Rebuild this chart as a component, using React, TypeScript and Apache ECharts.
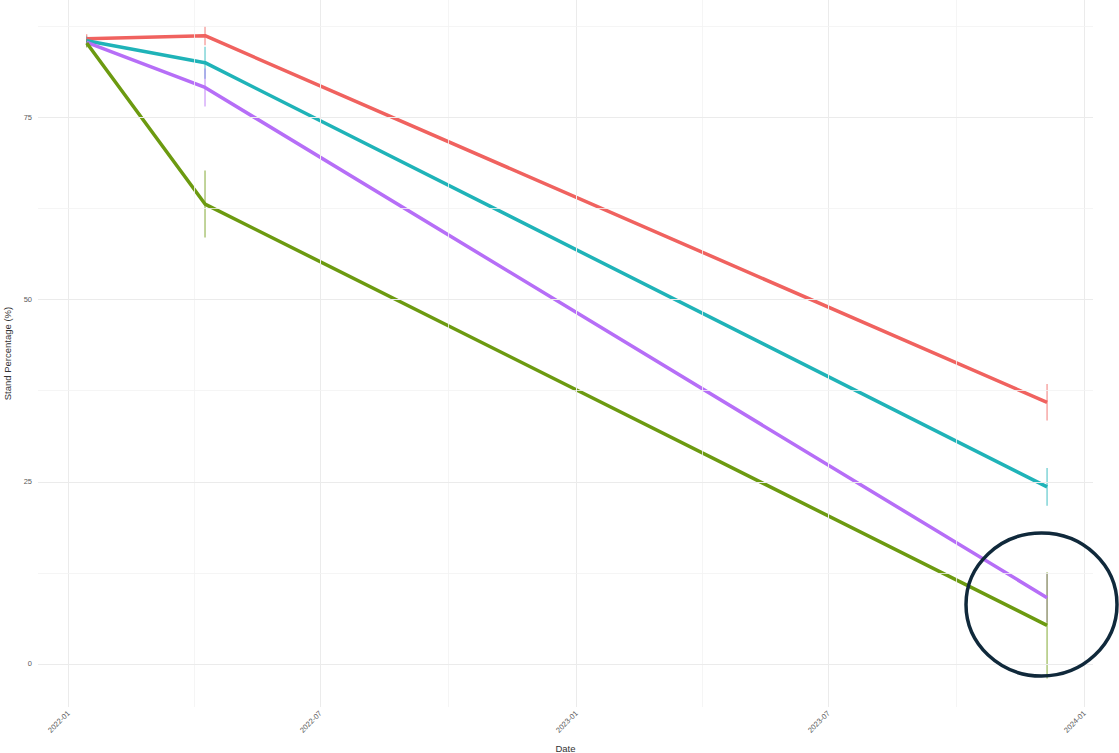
import React, { useEffect, useRef } from "react";
import * as echarts from "echarts";

// ---- data ----
const dates = ["2022-01-14", "2022-04-09", "2023-12-05"];
const groupNames = ["Group 1", "Group 2", "Group 3", "Group 4"];
const groupColors = ["#F0625F", "#1FB3B8", "#B66EF7", "#6C9A10"];
const standValues = [
  [85.8, 86.2, 35.9],
  [85.5, 82.5, 24.3],
  [85.3, 79.1, 9.1],
  [85.2, 63.1, 5.3],
];
const standErrors = [
  [0.6, 1.3, 2.5],
  [0.6, 2.2, 2.6],
  [0.6, 2.6, 3.4],
  [0.6, 4.6, 7.3],
];
const xBreaks = ["2022-01-01", "2022-07-01", "2023-01-01", "2023-07-01", "2024-01-01"];
const xMinorBreaks = ["2022-04-01", "2022-10-01", "2023-04-01", "2023-10-01"];
const xLimits = ["2021-12-10", "2024-01-07"];
const yBreaks = [0, 25, 50, 75];
const yMinorBreaks = [12.5, 37.5, 62.5, 87.5];
const yLimits = [-5.9, 91.1];

const ts = (d: string) => {
  const [y, m, dd] = d.split("-").map(Number);
  return Date.UTC(y, m - 1, dd);
};
const fmt = (v: number) => {
  const d = new Date(v);
  return `${d.getUTCFullYear()}-${String(d.getUTCMonth() + 1).padStart(2, "0")}`;
};

export default function App() {
  const ref = useRef<HTMLDivElement>(null);
  useEffect(() => {
    if (!ref.current) return;
    const chart = echarts.init(ref.current, undefined, { renderer: "svg" });

    const gridSeries: any = {
      type: "line",
      data: [],
      silent: true,
      z: 0,
      markLine: {
        silent: true,
        symbol: "none",
        label: { show: false },
        animation: false,
        data: [
          ...xBreaks.map((d) => ({ xAxis: ts(d), lineStyle: { color: "#ebebeb", width: 1, type: "solid" } })),
          ...xMinorBreaks.map((d) => ({ xAxis: ts(d), lineStyle: { color: "#f3f3f3", width: 0.8, type: "solid" } })),
          ...yBreaks.map((v) => ({ yAxis: v, lineStyle: { color: "#ebebeb", width: 1, type: "solid" } })),
          ...yMinorBreaks.map((v) => ({ yAxis: v, lineStyle: { color: "#f3f3f3", width: 0.8, type: "solid" } })),
        ],
      },
    };

    const errSeries = groupNames.map((name, gi) => ({
      type: "custom",
      name: name + " error",
      z: 3,
      data: dates.map((d, i) => [ts(d), standValues[gi][i] - standErrors[gi][i], standValues[gi][i] + standErrors[gi][i]]),
      renderItem: (params: any, api: any) => {
        const p1 = api.coord([api.value(0), api.value(1)]);
        const p2 = api.coord([api.value(0), api.value(2)]);
        return {
          type: "line",
          shape: { x1: p1[0], y1: p1[1], x2: p2[0], y2: p2[1] },
          style: { stroke: groupColors[gi], lineWidth: 1.2, opacity: 0.7 },
        };
      },
    }));

    const lineSeries = groupNames.map((name, gi) => ({
      type: "line",
      name,
      z: 4,
      showSymbol: false,
      symbol: "none",
      lineStyle: { color: groupColors[gi], width: 3.5 },
      itemStyle: { color: groupColors[gi] },
      data: dates.map((d, i) => [ts(d), standValues[gi][i]]),
    }));

    chart.setOption({
      animation: false,
      backgroundColor: "#ffffff",
      grid: { left: 38, right: 26, top: 0, bottom: 46, containLabel: false, outerBoundsMode: "none" },
      xAxis: {
        type: "value",
        min: ts(xLimits[0]),
        max: ts(xLimits[1]),
        axisLine: { show: false },
        axisTick: { show: false },
        splitLine: { show: false },
        axisLabel: {
          customValues: xBreaks.map(ts),
          formatter: (v: number) => fmt(v),
          rotate: 45,
          fontSize: 7.5,
          color: "#5a5a5a",
          margin: 5,
          fontFamily: "Liberation Sans, Arial, sans-serif",
        },
        name: "Date",
        nameLocation: "middle",
        nameGap: 36,
        nameTextStyle: { fontSize: 9.5, color: "#333", fontFamily: "Liberation Sans, Arial, sans-serif" },
      },
      yAxis: {
        type: "value",
        min: yLimits[0],
        max: yLimits[1],
        axisLine: { show: false },
        axisTick: { show: false },
        splitLine: { show: false },
        axisLabel: {
          customValues: yBreaks,
          fontSize: 7.5,
          color: "#5a5a5a",
          margin: 6,
          fontFamily: "Liberation Sans, Arial, sans-serif",
        },
        name: "Stand Percentage (%)",
        nameLocation: "middle",
        nameGap: 22,
        nameRotate: 90,
        nameTextStyle: { fontSize: 9.5, color: "#333", fontFamily: "Liberation Sans, Arial, sans-serif" },
      },
      graphic: [
        {
          type: "ellipse",
          shape: { cx: 1041.5, cy: 604.5, rx: 75.5, ry: 71.5 },
          style: { fill: "none", stroke: "#10293b", lineWidth: 3.5 },
          z: 100,
        },
      ],
      series: [gridSeries, ...errSeries, ...lineSeries],
    });
    return () => chart.dispose();
  }, []);
  return <div ref={ref} style={{ position: "absolute", left: 0, top: 0, width: 1119, height: 753 }} />;
}
